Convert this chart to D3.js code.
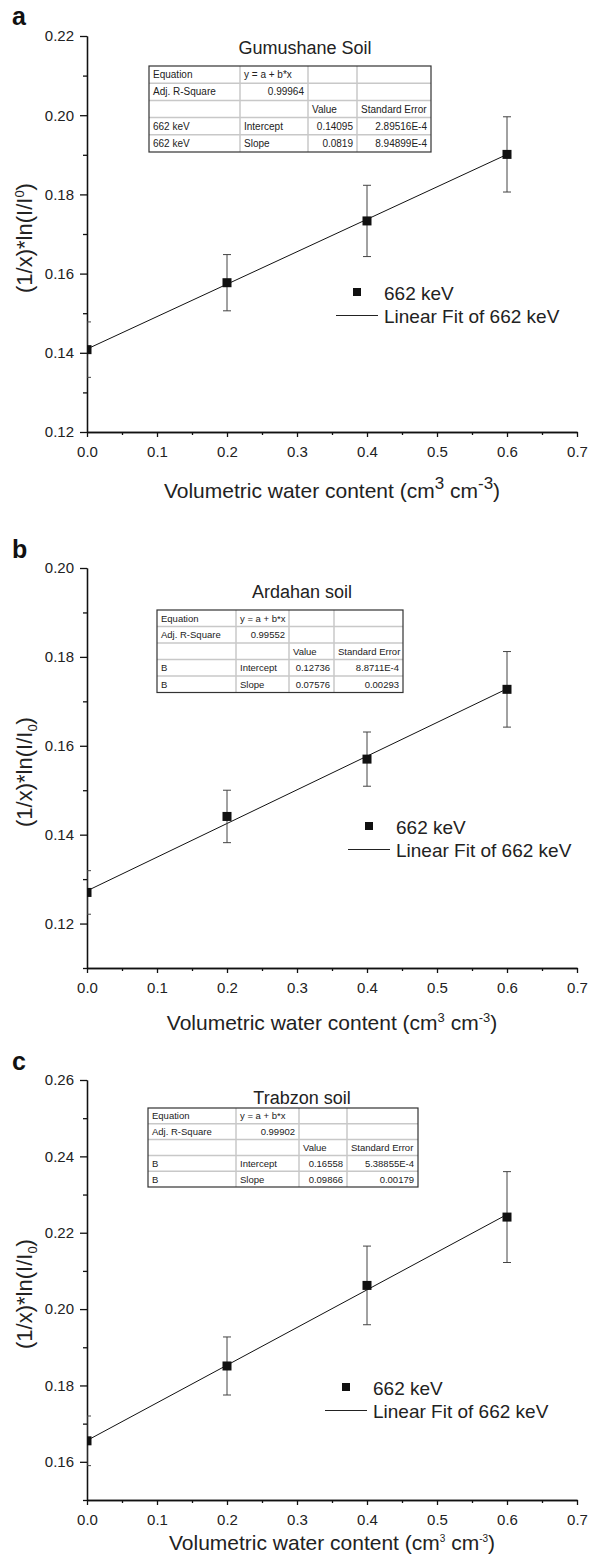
<!DOCTYPE html>
<html>
<head>
<meta charset="utf-8">
<script src="https://cdn.jsdelivr.net/npm/d3@7"></script>
<style>
  body { margin: 0; background: #fff; }
  svg { font-family: "Liberation Sans", Arial, sans-serif; }
  .axis path, .axis line { stroke: #111; stroke-width: 1.3; }
  .axis text { font-size: 15px; fill: #222; font-family: "Liberation Sans", Arial, sans-serif; }
</style>
</head>
<body>
<svg id="chart" width="591" height="1562"></svg>
<script>
// ---- data ----
const xValues = [0, 0.2, 0.4, 0.6];
const xTickLabels = [0, 0.1, 0.2, 0.3, 0.4, 0.5, 0.6, 0.7];

const panelLetters = ["a", "b", "c"];
const panelTitles = ["Gumushane Soil", "Ardahan soil", "Trabzon soil"];
const seriesName = "662 keV";
const fitName = "Linear Fit of 662 keV";

const gumushaneY = [0.1408, 0.1577, 0.1733, 0.1901];
const gumushaneErr = [0.0070, 0.0071, 0.0090, 0.0095];
const ardahanY = [0.1270, 0.1441, 0.1570, 0.1727];
const ardahanErr = [0.0049, 0.0059, 0.0061, 0.0085];
const trabzonY = [0.1655, 0.1851, 0.2062, 0.2241];
const trabzonErr = [0.0065, 0.0076, 0.0103, 0.0119];

const fitIntercepts = [0.14095, 0.12736, 0.16558];
const fitSlopes = [0.0819, 0.07576, 0.09866];

const yDomains = [[0.12, 0.22], [0.11, 0.20], [0.15, 0.26]];
const yTickLabels = [
  [0.12, 0.14, 0.16, 0.18, 0.20, 0.22],
  [0.12, 0.14, 0.16, 0.18, 0.20],
  [0.16, 0.18, 0.20, 0.22, 0.24, 0.26]
];

const gumushaneTable = [
  ["Equation", "y = a + b*x", "", ""],
  ["Adj. R-Square", "0.99964", "", ""],
  ["", "", "Value", "Standard Error"],
  ["662 keV", "Intercept", "0.14095", "2.89516E-4"],
  ["662 keV", "Slope", "0.0819", "8.94899E-4"]
];
const ardahanTable = [
  ["Equation", "y = a + b*x", "", ""],
  ["Adj. R-Square", "0.99552", "", ""],
  ["", "", "Value", "Standard Error"],
  ["B", "Intercept", "0.12736", "8.8711E-4"],
  ["B", "Slope", "0.07576", "0.00293"]
];
const trabzonTable = [
  ["Equation", "y = a + b*x", "", ""],
  ["Adj. R-Square", "0.99902", "", ""],
  ["", "", "Value", "Standard Error"],
  ["B", "Intercept", "0.16558", "5.38855E-4"],
  ["B", "Slope", "0.09866", "0.00179"]
];

const seriesY = [gumushaneY, ardahanY, trabzonY];
const seriesErr = [gumushaneErr, ardahanErr, trabzonErr];
const tables = [gumushaneTable, ardahanTable, trabzonTable];

// ---- layout (pixels) ----
const left = 87, right = 577;
const layouts = [
  { top: 36, bottom: 432, letterY: 25, titleX: 305, titleY: 54,
    table: { x: 149, y: 66, cols: [91, 68, 49, 74], rowH: 17.2, font: 10 },
    legend: { x: 357, y: 292 },
    xlab: { y: 498, sup: 17, raise: 9 } },
  { top: 568, bottom: 968, letterY: 558, titleX: 302, titleY: 598,
    table: { x: 157, y: 610, cols: [79, 53, 45, 69], rowH: 16.5, font: 9.5 },
    legend: { x: 369, y: 826 },
    xlab: { y: 1030, sup: 13, raise: 8 } },
  { top: 1080, bottom: 1500, letterY: 1070, titleX: 302, titleY: 1104,
    table: { x: 148, y: 1108, cols: [88, 63, 48, 71], rowH: 15.8, font: 9.5 },
    legend: { x: 346, y: 1387 },
    xlab: { y: 1550, sup: 10, raise: 8 } }
];
const ylabSub = [false, true, true];

const svg = d3.select("#chart");
svg.append("rect").attr("width", 591).attr("height", 1562).attr("fill", "#fff");

const x = d3.scaleLinear().domain([0, 0.7]).range([left, right]);

layouts.forEach((L, p) => {
  const g = svg.append("g");
  const y = d3.scaleLinear().domain(yDomains[p]).range([L.bottom, L.top]);

  const clipId = "clip" + p;
  svg.append("clipPath").attr("id", clipId)
    .append("rect")
      .attr("x", left).attr("y", L.top - 20)
      .attr("width", right - left + 10).attr("height", L.bottom - L.top + 20);

  // minor ticks
  const yMinor = d3.range(Math.round(yDomains[p][0] * 100), Math.round(yDomains[p][1] * 100) + 1)
    .map(v => v / 100)
    .filter(v => !yTickLabels[p].some(t => Math.abs(t - v) < 1e-9));
  const xMinor = d3.range(0.05, 0.7, 0.1);

  g.append("g").attr("class", "axis")
    .attr("transform", "translate(0," + L.bottom + ")")
    .call(d3.axisBottom(x).tickValues(xMinor).tickSize(3).tickSizeOuter(0).tickFormat(""));
  g.append("g").attr("class", "axis")
    .attr("transform", "translate(0," + L.bottom + ")")
    .call(d3.axisBottom(x).tickValues(xTickLabels).tickSize(5).tickSizeOuter(0)
      .tickPadding(9).tickFormat(d3.format(".1f")));

  g.append("g").attr("class", "axis")
    .attr("transform", "translate(" + left + ",0)")
    .call(d3.axisLeft(y).tickValues(yMinor).tickSize(4).tickSizeOuter(0).tickFormat(""));
  g.append("g").attr("class", "axis")
    .attr("transform", "translate(" + left + ",0)")
    .call(d3.axisLeft(y).tickValues(yTickLabels[p]).tickSize(7).tickSizeOuter(0)
      .tickPadding(6).tickFormat(d3.format(".2f")));

  // panel letter
  g.append("text")
    .attr("x", 12).attr("y", L.letterY)
    .attr("font-size", 25).attr("font-weight", "bold").attr("fill", "#111")
    .text(panelLetters[p]);

  // title
  g.append("text")
    .attr("x", L.titleX).attr("y", L.titleY)
    .attr("text-anchor", "middle").attr("font-size", 18).attr("fill", "#222")
    .text(panelTitles[p]);

  // y label
  const yl = g.append("text")
    .attr("transform", "translate(32," + ((L.top + L.bottom) / 2 + 4) + ") rotate(-90)")
    .attr("text-anchor", "middle").attr("font-size", 22).attr("fill", "#222");
  yl.append("tspan").text("(1/x)*ln(I/I");
  yl.append("tspan").attr("font-size", 13).attr("dy", ylabSub[p] ? 5 : -8).text("0");
  yl.append("tspan").attr("dy", ylabSub[p] ? -5 : 8).text(")");

  // x label
  const xl = g.append("text")
    .attr("x", (left + right) / 2).attr("y", L.xlab.y)
    .attr("text-anchor", "middle").attr("font-size", 21).attr("fill", "#222");
  xl.append("tspan").text("Volumetric water content (cm");
  xl.append("tspan").attr("font-size", L.xlab.sup).attr("dy", -L.xlab.raise).text("3");
  xl.append("tspan").attr("dy", L.xlab.raise).text(" cm");
  xl.append("tspan").attr("font-size", L.xlab.sup).attr("dy", -L.xlab.raise).text("-3");
  xl.append("tspan").attr("dy", L.xlab.raise).text(")");

  // fit line
  const plot = g.append("g").attr("clip-path", "url(#" + clipId + ")");
  const fitX = [xValues[0], xValues[xValues.length - 1]];
  plot.append("path")
    .datum(fitX)
    .attr("fill", "none").attr("stroke", "#111").attr("stroke-width", 1)
    .attr("d", d3.line().x(d => x(d)).y(d => y(fitIntercepts[p] + fitSlopes[p] * d)));

  // error bars
  const pts = xValues.map((xv, i) => ({ x: xv, y: seriesY[p][i], e: seriesErr[p][i] }));
  const eb = plot.selectAll(".eb").data(pts).enter().append("g")
    .attr("stroke", "#444").attr("stroke-width", 1);
  eb.append("line")
    .attr("x1", d => x(d.x)).attr("x2", d => x(d.x))
    .attr("y1", d => y(d.y - d.e)).attr("y2", d => y(d.y + d.e));
  eb.append("line")
    .attr("x1", d => x(d.x) - 4).attr("x2", d => x(d.x) + 4)
    .attr("y1", d => y(d.y + d.e)).attr("y2", d => y(d.y + d.e));
  eb.append("line")
    .attr("x1", d => x(d.x) - 4).attr("x2", d => x(d.x) + 4)
    .attr("y1", d => y(d.y - d.e)).attr("y2", d => y(d.y - d.e));

  // markers
  plot.selectAll(".pt").data(pts).enter().append("rect")
    .attr("x", d => x(d.x) - 4.5).attr("y", d => y(d.y) - 4.5)
    .attr("width", 9).attr("height", 9).attr("fill", "#111");

  // table
  const T = L.table;
  const tg = g.append("g").attr("transform", "translate(" + T.x + "," + T.y + ")");
  const colX = [0];
  T.cols.forEach((w, i) => colX.push(colX[i] + w));
  const tw = colX[colX.length - 1], th = T.rowH * tables[p].length;
  tg.append("rect").attr("width", tw).attr("height", th).attr("fill", "#fff");
  for (let r = 1; r < tables[p].length; r++) {
    tg.append("line").attr("x1", 0).attr("x2", tw)
      .attr("y1", r * T.rowH).attr("y2", r * T.rowH)
      .attr("stroke", "#c8c8c8").attr("stroke-width", 1.5);
  }
  for (let c = 1; c < T.cols.length; c++) {
    tg.append("line").attr("x1", colX[c]).attr("x2", colX[c])
      .attr("y1", 0).attr("y2", th)
      .attr("stroke", "#c8c8c8").attr("stroke-width", 1.5);
  }
  tg.append("rect").attr("width", tw).attr("height", th)
    .attr("fill", "none").attr("stroke", "#333").attr("stroke-width", 1.2);
  tables[p].forEach((row, r) => {
    row.forEach((cell, c) => {
      const numeric = /^[0-9]/.test(cell) && !/keV/.test(cell);
      tg.append("text")
        .attr("x", numeric ? colX[c + 1] - 4 : colX[c] + 4)
        .attr("y", r * T.rowH + T.rowH / 2 + T.font * 0.36)
        .attr("text-anchor", numeric ? "end" : "start")
        .attr("font-size", T.font).attr("fill", "#222")
        .text(cell);
    });
  });

  // legend
  const lg = g.append("g");
  lg.append("rect")
    .attr("x", L.legend.x - 4).attr("y", L.legend.y - 4)
    .attr("width", 8).attr("height", 8).attr("fill", "#111");
  lg.append("text")
    .attr("x", L.legend.x + 27).attr("y", L.legend.y + 7.5)
    .attr("font-size", 19).attr("fill", "#222").text(seriesName);
  lg.append("line")
    .attr("x1", L.legend.x - 21).attr("x2", L.legend.x + 21)
    .attr("y1", L.legend.y + 23.5).attr("y2", L.legend.y + 23.5)
    .attr("stroke", "#222").attr("stroke-width", 1);
  lg.append("text")
    .attr("x", L.legend.x + 27).attr("y", L.legend.y + 31)
    .attr("font-size", 19).attr("fill", "#222").text(fitName);
});
</script>
</body>
</html>
